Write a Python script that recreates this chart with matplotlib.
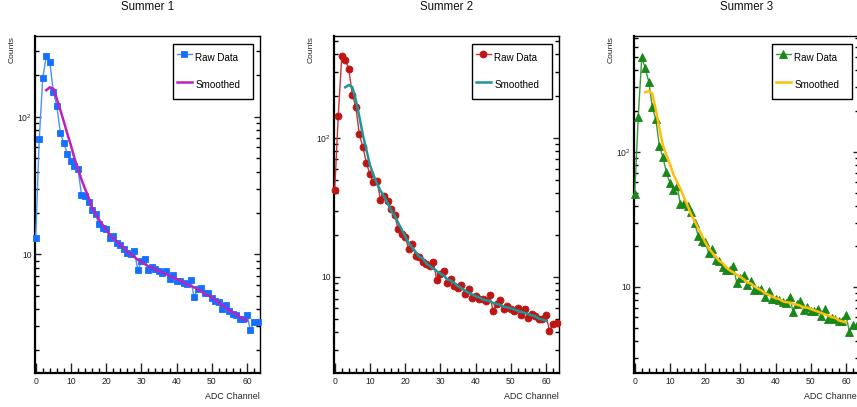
import matplotlib
matplotlib.use("Agg")
import matplotlib.pyplot as plt
from matplotlib.ticker import FixedLocator, MultipleLocator, LogLocator, FuncFormatter, NullFormatter

plt.rcParams['font.family'] = ['Liberation Sans', 'DejaVu Sans']
plt.rcParams['mathtext.fontset'] = 'custom'
plt.rcParams['mathtext.rm'] = 'Liberation Sans'

# ADC channels 0..63
channels = list(range(64))
smooth_channels = list(range(3, 61))

summer1_raw = [13.2, 69, 190, 277, 250, 152, 120, 76, 64, 54,
               48, 44, 42, 27, 26.5, 24, 21, 19.5, 16.5, 15.5,
               15.2, 13.2, 13.6, 12.0, 11.6, 10.9, 10.3, 10.0, 10.5, 7.7,
               8.9, 9.3, 7.7, 8.1, 7.8, 7.6, 7.3, 7.5, 6.6, 7.1,
               6.4, 6.4, 6.2, 6.1, 6.5, 4.9, 5.6, 5.7, 5.2, 5.2,
               4.8, 4.6, 4.5, 4.0, 4.3, 3.9, 3.7, 3.6, 3.4, 3.4,
               3.6, 2.8, 3.2, 3.2]
summer1_smooth = [156, 164, 160, 135, 112, 92, 75, 62, 50, 42,
                  35, 30, 26, 21.8, 19.7, 17.8, 16.4, 15.1, 13.9, 13.1,
                  12.4, 11.7, 11.2, 10.4, 10.0, 9.6, 9.1, 8.8, 8.5, 8.15,
                  8.0, 7.8, 7.5, 7.4, 7.2, 7.0, 6.8, 6.6, 6.45, 6.23,
                  6.01, 5.91, 5.74, 5.6, 5.41, 5.14, 5.05, 4.86, 4.66, 4.47,
                  4.26, 4.09, 3.91, 3.76, 3.68, 3.49, 3.39, 3.31]

summer2_raw = [42, 143, 385, 365, 312, 205, 167, 106, 86, 66,
               55, 48, 49, 36, 38, 35, 31, 28, 22, 20.5,
               19.4, 16, 17.2, 14.1, 14, 12.8, 12.3, 11.9, 12.8, 9.5,
               10.5, 11, 9.1, 9.7, 8.6, 8.4, 8.7, 7.5, 8.2, 7.1,
               7.3, 7.0, 6.9, 6.7, 7.4, 5.7, 6.4, 6.8, 5.9, 6.2,
               5.85, 5.7, 6.0, 5.3, 5.9, 5.1, 5.4, 5.2, 5.0, 4.95,
               5.3, 4.1, 4.6, 4.65]
summer2_smooth = [231, 240, 232, 187, 142, 105, 82, 64, 54, 47,
                  41.7, 37.9, 34.1, 30.1, 27.7, 24.6, 22, 19.6, 17.6, 16.3,
                  15.1, 14.0, 13.6, 12.5, 12.0, 11.5, 11.0, 10.6, 10.2, 9.6,
                  9.4, 9.0, 8.6, 8.3, 8.0, 7.7, 7.5, 7.25, 7.15, 6.9,
                  6.8, 6.7, 6.5, 6.4, 6.3, 6.1, 6.05, 5.96, 5.84, 5.72,
                  5.6, 5.51, 5.41, 5.3, 5.22, 5.01, 4.94, 4.83]

summer3_raw = [49, 180, 500, 414, 330, 213, 174, 111, 91, 71,
               59, 52, 56, 41, 42, 40, 36, 30, 24, 22,
               21.5, 17.9, 19.2, 15.9, 15.5, 14.1, 13.4, 13.3, 14.2, 10.7,
               11.7, 12.3, 10.3, 11.1, 9.55, 9.5, 9.7, 8.5, 9.4, 8.2,
               8.1, 8.0, 7.7, 7.65, 8.5, 6.5, 7.5, 7.9, 6.8, 7.1,
               6.65, 6.65, 6.9, 6.07, 6.9, 5.8, 5.9, 5.8, 5.6, 5.6,
               6.2, 4.64, 5.2, 5.25]
summer3_smooth = [276, 282, 270, 205, 150, 112, 95, 81, 68, 60,
                  53, 46, 40, 34.5, 30.8, 27.3, 24.4, 21.5, 19.4, 18.0,
                  16.8, 15.6, 15.0, 13.9, 13.3, 12.8, 12.3, 11.9, 11.4, 10.8,
                  10.6, 10.1, 9.72, 9.42, 9.0, 8.77, 8.51, 8.25, 8.15, 7.85,
                  7.72, 7.68, 7.51, 7.42, 7.28, 7.05, 7.05, 6.87, 6.72, 6.58,
                  6.41, 6.29, 6.14, 5.98, 5.92, 5.65, 5.56, 5.47]

panels = [
    dict(title='Summer 1', raw=summer1_raw, smooth=summer1_smooth, marker='s', ms=5.0,
         mcol='#1470ff', lcol='#4a90ff', scol='#bb22bb', ylim=(1.37, 387), left=35),
    dict(title='Summer 2', raw=summer2_raw, smooth=summer2_smooth, marker='o', ms=5.0,
         mcol='#be1515', lcol='#cc3333', scol='#1c9696', ylim=(2.04, 540), left=334),
    dict(title='Summer 3', raw=summer3_raw, smooth=summer3_smooth, marker='^', ms=5.8,
         mcol='#1a871a', lcol='#3a9a3a', scol='#ffbe0a', ylim=(2.31, 720), left=634),
]

W, H = 857, 407
fig = plt.figure(figsize=(W / 100, H / 100), dpi=100)


def ylab(v, pos):
    if abs(v - 10) < 1e-6:
        return '10'
    if abs(v - 100) < 1e-6:
        return r'$\mathregular{10^{2}}$'
    return ''


for p in panels:
    ax = fig.add_axes([p['left'] / W, (H - 373) / H, 225 / W, 337 / H])
    ax.set_yscale('log')
    ax.plot(channels, p['raw'], color=p['lcol'], lw=1.0, marker=p['marker'], ms=p['ms'],
            mfc=p['mcol'], mec=p['mcol'], mew=0.6, label='Raw Data', clip_on=False, zorder=3)
    ax.plot(smooth_channels, p['smooth'], color=p['scol'], lw=1.8, label='Smoothed', zorder=4)
    ax.set_xlim(-0.2, 63.7)
    ax.set_ylim(*p['ylim'])

    ax.xaxis.set_major_locator(MultipleLocator(10))
    ax.xaxis.set_minor_locator(MultipleLocator(2))
    ax.yaxis.set_major_locator(FixedLocator([10, 100]))
    ax.yaxis.set_major_formatter(FuncFormatter(ylab))
    ax.yaxis.set_minor_locator(LogLocator(base=10, subs=range(2, 10)))
    ax.yaxis.set_minor_formatter(NullFormatter())
    ax.tick_params(axis='x', which='major', direction='in', length=7.2, width=1.0,
                   labelsize=6.2, pad=3, top=False, colors='#222222')
    ax.tick_params(axis='x', which='minor', direction='in', length=3.6, width=1.0, top=False)
    ax.tick_params(axis='y', which='major', direction='in', length=4.5, width=1.0,
                   labelsize=6.2, pad=2, right=True, colors='#222222')
    ax.tick_params(axis='y', which='minor', direction='in', length=2.6, width=1.0, right=True)
    for side in ['left', 'bottom']:
        ax.spines[side].set_linewidth(1.6)
    for side in ['top', 'right']:
        ax.spines[side].set_linewidth(1.0)

    leg = ax.legend(loc='upper left', bbox_to_anchor=(0.613, 0.976, 0.356, 0.0), mode='expand',
                    borderaxespad=0, fontsize=7.1, numpoints=1, handlelength=1.5,
                    handleheight=2.6, handletextpad=0.35, borderpad=0.4, labelspacing=0.85,
                    fancybox=False, framealpha=1, edgecolor='black')
    leg.get_frame().set_linewidth(1.0)

    cx = (p['left'] + 112.5) / W
    fig.text(cx, 1 - 7.5 / H, p['title'], ha='center', va='center', fontsize=8.3, color='#111111')
    fig.text((p['left'] - 23) / W, 1 - 36 / H, 'Counts', rotation=90, ha='center', va='top',
             fontsize=6.1, color='#222222')
    fig.text((p['left'] + 225) / W, 1 - 396.7 / H, 'ADC Channel', ha='right', va='center',
             fontsize=6.4, color='#222222')

fig.savefig('out.png', dpi=100)
